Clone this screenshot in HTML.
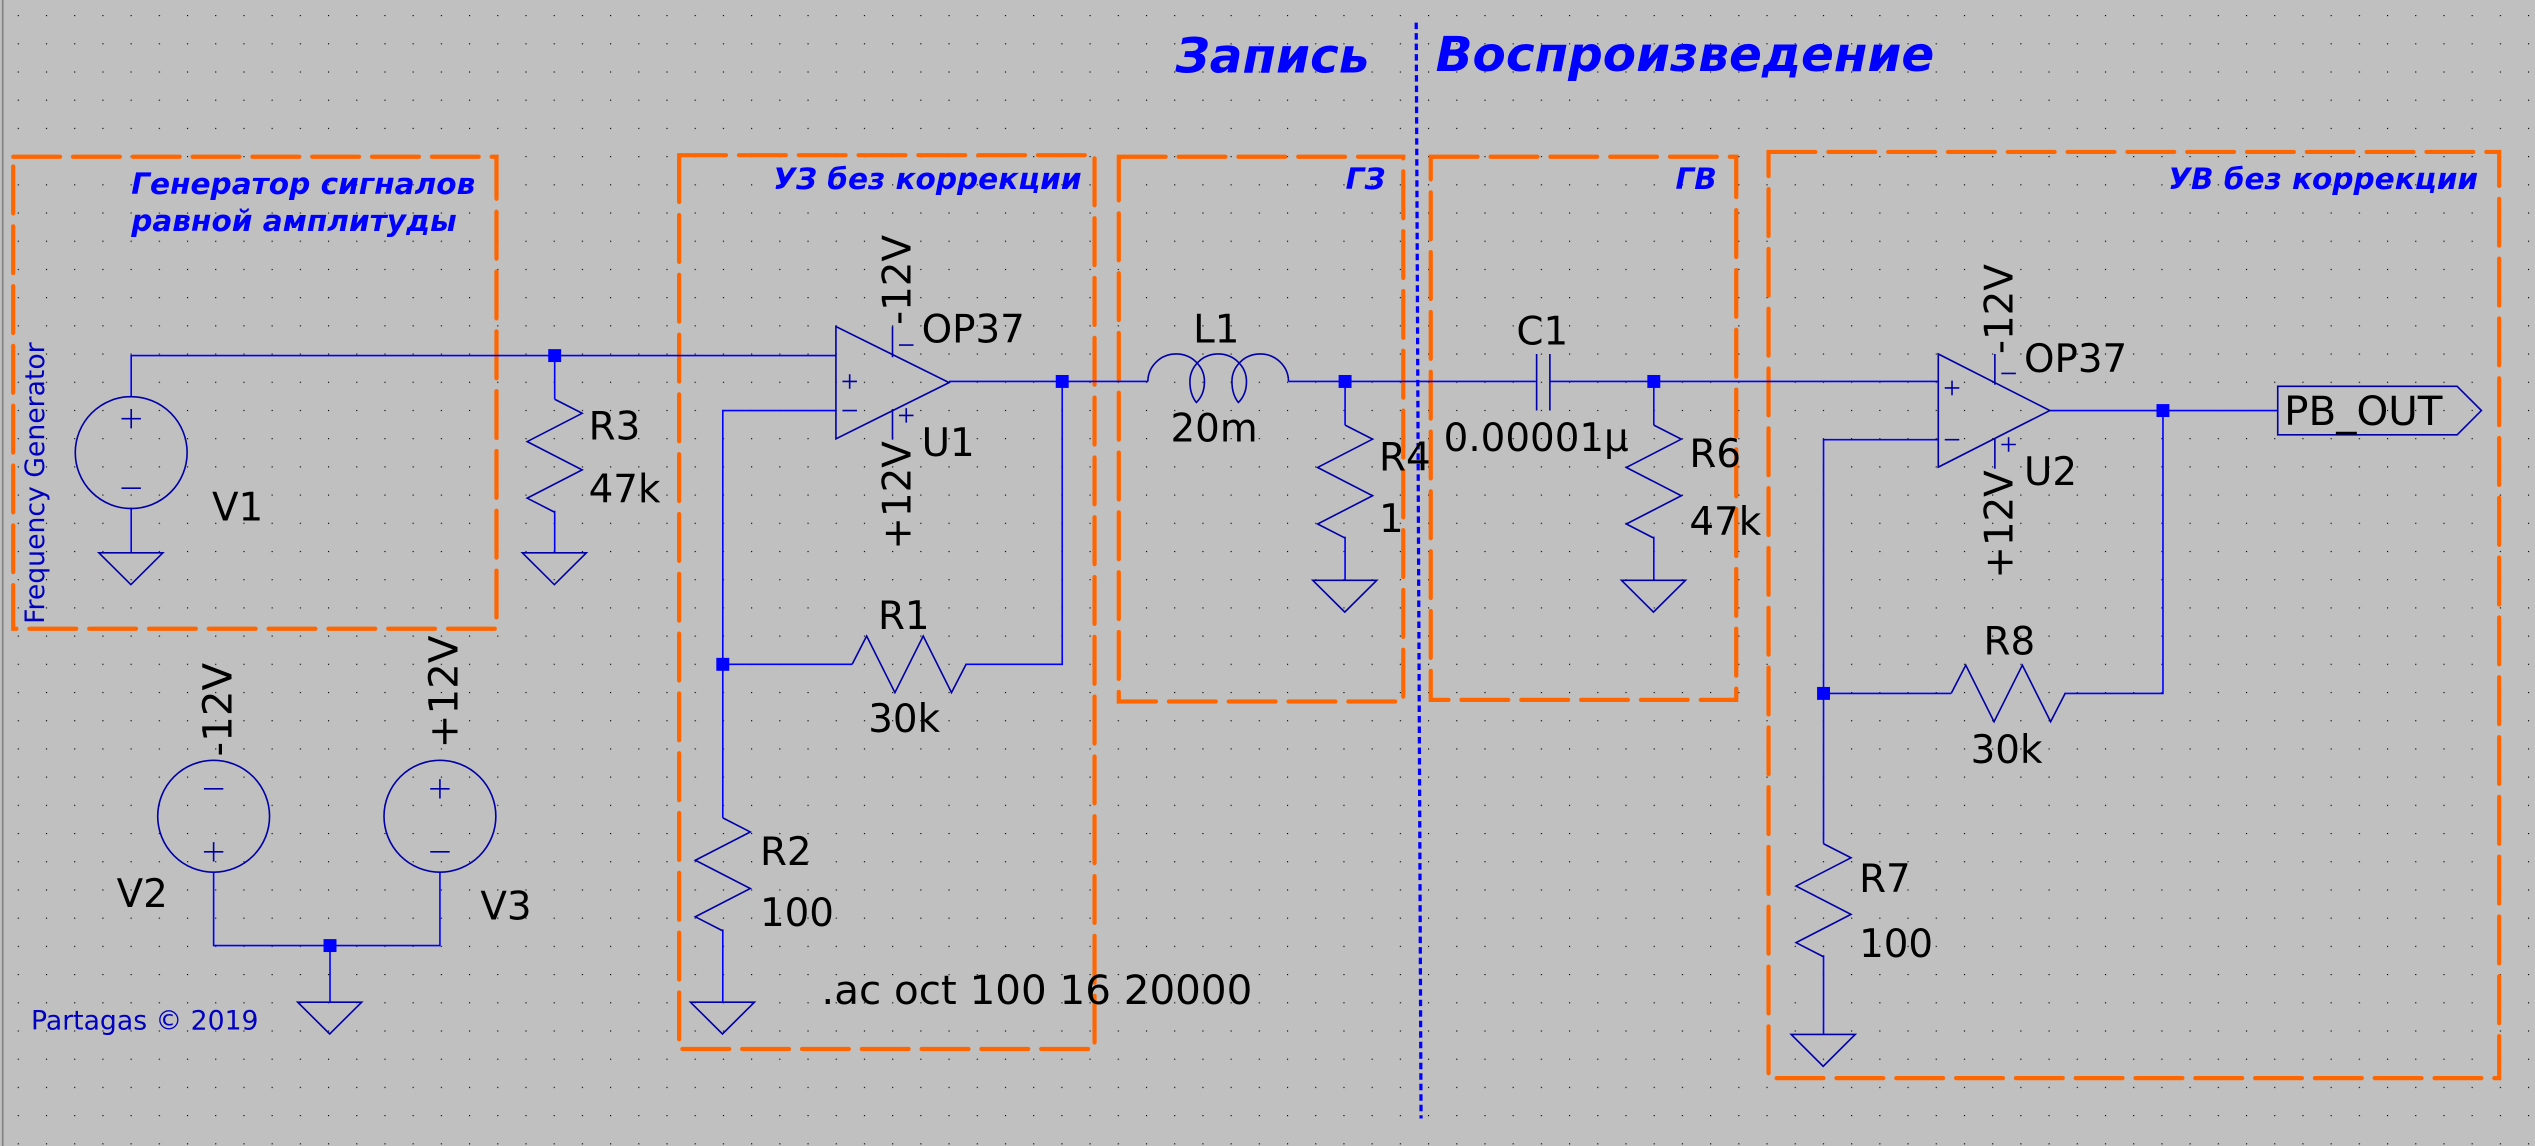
<!DOCTYPE html>
<html><head><meta charset="utf-8"><style>html,body{margin:0;padding:0;background:#c0c0c0}svg{display:block}</style></head><body>
<svg width="2535" height="1146" viewBox="0 0 1568 709" xmlns="http://www.w3.org/2000/svg">
<defs><pattern id="g" x="10.8" y="9.3" width="17.45" height="17.45" patternUnits="userSpaceOnUse"><rect width="0.7" height="0.7" fill="#000"/></pattern></defs>
<rect width="1568" height="709" fill="#c0c0c0"/>
<rect width="1568" height="709" fill="url(#g)"/>
<line x1="1.5" y1="0" x2="1.5" y2="709" stroke="#808080" stroke-width="1"/>
<g fill="none" stroke="#ff6600" stroke-width="2.6" stroke-dasharray="29,8" stroke-linecap="round">
<rect x="8" y="97" width="299" height="292"/>
<rect x="420" y="96" width="257" height="553"/>
<rect x="692" y="97" width="176" height="337"/>
<rect x="885" y="97" width="189" height="336"/>
<rect x="1094" y="94" width="452" height="573"/>
</g>
<line x1="876" y1="14" x2="879" y2="692" stroke="#0000ff" stroke-width="2" stroke-dasharray="4,2.5"/>
<g font-family="DejaVu Sans, Liberation Sans, sans-serif" font-weight="bold" font-style="italic" fill="#0000ff">
<text x="727" y="45" font-size="30">Запись</text>
<text x="888" y="44" font-size="30">Воспроизведение</text>
<g font-size="18.3"><text x="81" y="120">Генератор сигналов</text><text x="81" y="143">равной амплитуды</text>
<text x="669" y="117" text-anchor="end">УЗ без коррекции</text>
<text x="857" y="117" text-anchor="end">ГЗ</text>
<text x="1062" y="117" text-anchor="end">ГВ</text>
<text x="1533" y="117" text-anchor="end">УВ без коррекции</text></g>
</g>
<g font-family="DejaVu Sans, Liberation Sans, sans-serif" fill="#0000c0" font-size="16.5">
<text transform="translate(27,386) rotate(-90)">Frequency Generator</text>
<text x="19" y="637">Partagas © 2019</text>
</g>
<!-- wires -->
<g fill="none" stroke="#0000ff" stroke-width="1">
<path d="M81 245V220H517M81 314V342"/>
<path d="M343 220V247M343 316V342"/>
<path d="M587 236H710M517 254H447V506M447 575V620M447 411H527M597 411H657V236"/>
<path d="M797 236H950M959 236H1199M832 236V263M832 332V359M1023 236V263M1023 332V359"/>
<path d="M1268 254H1409M1199 272H1128V522M1128 591V640M1128 429H1207M1277 429H1338V254"/>
<path d="M132 540V585H272V540"/>
<path d="M204 585V620"/>
</g>
<!-- symbols -->
<g fill="none" stroke="#0000a8" stroke-width="1">
<circle cx="81" cy="280" r="34.6"/>
<path d="M75 259h12M81 253v12M75 302h12"/>
<path d="M61 342h39.6l-19.8 19.7z"/>
<path d="M343 247l17 8.7-34 17.5 34 17.5-34 17.5 17 8.7"/><path d="M323 342h39.6l-19.8 19.7z"/>
<path d="M517 202V271.5L587 236.7Z"/>
<path d="M521 236h9M525.5 231.5v9M521 254h9"/>
<path d="M552 202V221M552 253V272M556 213.5h9M556 257h9M560.5 252.5v9"/>
<path d="M527 411l9-17.5 17.5 35 17.5-35 17.5 35 9-17.5"/>
<path d="M447 506l17 8.7-34 17.5 34 17.5-34 17.5 17 8.7"/>
<path d="M427 620h39.6l-19.8 19.7z"/>
<path d="M710 236A17.5 17 0 0 1 745 236Q745 244 740 249Q736 244 736 236A17.5 17 0 0 1 771 236Q771 244 766 249Q762 244 762 236A17.5 17 0 0 1 797 236"/>
<path d="M832 263l17 8.7-34 17.5 34 17.5-34 17.5 17 8.7"/><path d="M812 359h39.6l-19.8 19.7z"/>
<path d="M950.5 219v35M958.7 219v35"/>
<path d="M1023 263l17 8.7-34 17.5 34 17.5-34 17.5 17 8.7"/><path d="M1003 359h39.6l-19.8 19.7z"/>
<path d="M1199 219V289L1268 254Z"/>
<path d="M1203 240h9M1207.5 235.5v9M1203 272h9"/>
<path d="M1234 219V238M1234 271V290M1238 231h9M1238 275h9M1242.5 270.5v9"/>
<path d="M1207 429l9-17.5 17.5 35 17.5-35 17.5 35 9-17.5"/>
<path d="M1128 522l17 8.7-34 17.5 34 17.5-34 17.5 17 8.7"/>
<path d="M1108 640h39.6l-19.8 19.7z"/>
<path d="M1409 239H1520L1535 254L1520 269H1409Z"/>
<circle cx="132" cy="505" r="34.6"/><circle cx="272" cy="505" r="34.6"/>
<path d="M126 488h12M126 527h12M132 521v12M266 488h12M272 482v12M266 527h12"/>
<path d="M184 620h39.6l-19.8 19.7z"/>
</g>
<g fill="#0000ff">
<rect x="339" y="216" width="8" height="8"/><rect x="653" y="232" width="8" height="8"/>
<rect x="443" y="407" width="8" height="8"/><rect x="828" y="232" width="8" height="8"/>
<rect x="1019" y="232" width="8" height="8"/><rect x="1334" y="250" width="8" height="8"/>
<rect x="1124" y="425" width="8" height="8"/><rect x="200" y="581" width="8" height="8"/>
</g>
<g font-family="DejaVu Sans, Liberation Sans, sans-serif" fill="#000" font-size="24">
<text x="131" y="322">V1</text>
<text x="364" y="272">R3</text><text x="364" y="311">47k</text>
<text x="570" y="212">OP37</text><text x="570" y="282">U1</text>
<text transform="translate(563,201) rotate(-90)">-12V</text>
<text transform="translate(563,340) rotate(-90)">+12V</text>
<text x="543" y="389">R1</text><text x="537" y="453">30k</text>
<text x="470" y="535">R2</text><text x="470" y="573">100</text>
<text x="508" y="621" font-size="25">.ac oct 100 16 20000</text>
<text x="738" y="212">L1</text><text x="724" y="273">20m</text>
<text x="853" y="291">R4</text><text x="853" y="329">1</text>
<text x="938" y="213">C1</text><text x="893" y="279">0.00001µ</text>
<text x="1045" y="289">R6</text><text x="1045" y="331">47k</text>
<text x="1252" y="230">OP37</text><text x="1252" y="300">U2</text>
<text transform="translate(1245,219) rotate(-90)">-12V</text>
<text transform="translate(1245,358) rotate(-90)">+12V</text>
<text x="1227" y="405">R8</text><text x="1219" y="472">30k</text>
<text x="1150" y="552">R7</text><text x="1150" y="592">100</text>
<text x="1413" y="263" font-size="25">PB_OUT</text>
<text transform="translate(143,468) rotate(-90)" font-size="25">-12V</text>
<text transform="translate(283,463) rotate(-90)" font-size="25">+12V</text>
<text x="72" y="561">V2</text><text x="297" y="569">V3</text>
</g>
</svg>
</body></html>
